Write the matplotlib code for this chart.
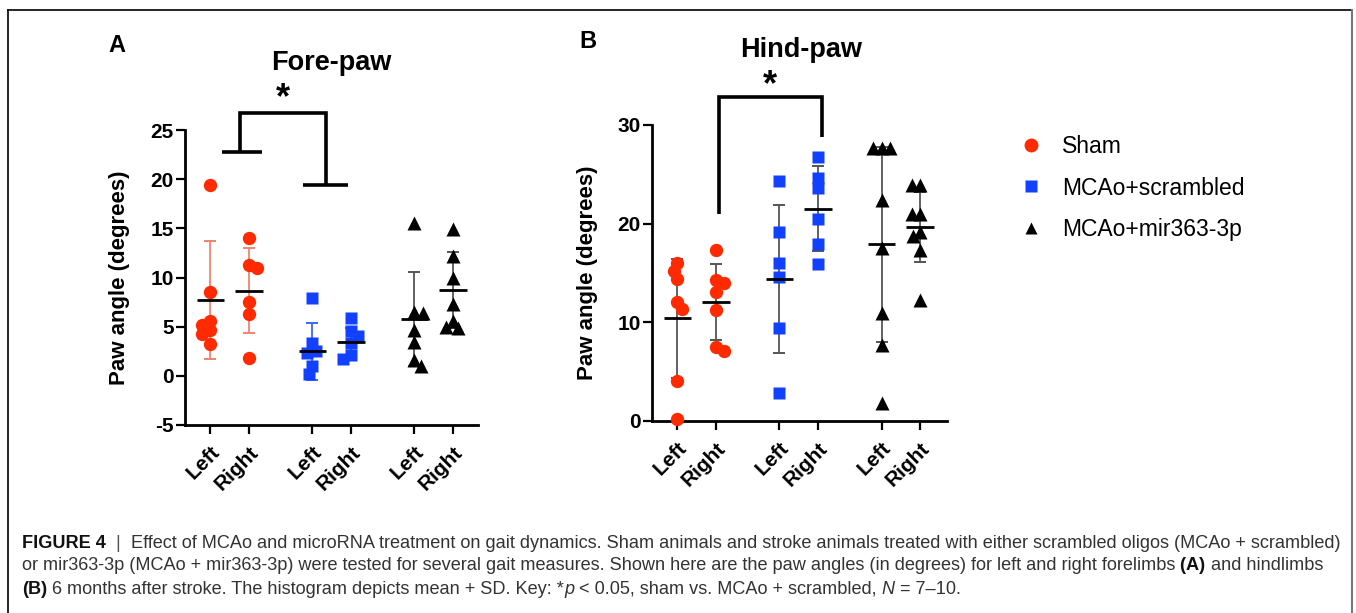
import matplotlib
matplotlib.use("Agg")
import matplotlib.pyplot as plt
from matplotlib.lines import Line2D
import numpy as np

plt.rcParams['font.family'] = ['Liberation Sans', 'DejaVu Sans']

# ---------------- data ----------------
group_labels = ["Sham", "MCAo+scrambled", "MCAo+mir363-3p"]
side_labels = ["Left", "Right"]

# Fore-paw (panel A), paw angle in degrees
sham_fore_left = [19.4, 8.5, 5.6, 5.2, 4.7, 4.3, 3.2]
sham_fore_right = [14.0, 11.3, 11.0, 7.5, 6.3, 1.8]
scr_fore_left = [7.9, 3.3, 2.5, 2.3, 1.0, 0.2]
scr_fore_right = [5.9, 4.6, 4.1, 3.3, 2.1, 1.7]
mir_fore_left = [15.5, 6.5, 6.4, 4.7, 3.4, 1.6, 1.0]
mir_fore_right = [14.9, 12.2, 10.0, 7.3, 5.6, 5.0, 4.9]
fore_means = [7.7, 8.65, 2.5, 3.4, 5.8, 8.75]
fore_sds = [6.0, 4.3, 2.9, 1.5, 4.8, 3.85]

# Hind-paw (panel B)
sham_hind_left = [16.0, 15.2, 14.4, 12.1, 11.4, 4.1, 0.2]
sham_hind_right = [17.3, 14.3, 14.0, 13.1, 11.2, 7.5, 7.1]
scr_hind_left = [24.3, 19.2, 16.0, 14.6, 9.4, 2.8]
scr_hind_right = [26.8, 24.6, 23.6, 20.5, 17.9, 15.9]
mir_hind_left = [27.7, 27.7, 27.7, 22.4, 17.5, 10.9, 7.7, 1.8]
mir_hind_right = [23.9, 23.9, 21.0, 21.0, 19.2, 18.7, 17.3, 12.3]
hind_means = [10.4, 12.1, 14.4, 21.5, 17.9, 19.7]
hind_sds = [6.0, 3.85, 7.5, 4.3, 9.9, 3.55]

fore_data = [sham_fore_left, sham_fore_right, scr_fore_left, scr_fore_right,
             mir_fore_left, mir_fore_right]
hind_data = [sham_hind_left, sham_hind_right, scr_hind_left, scr_hind_right,
             mir_hind_left, mir_hind_right]

# ---------------- style ----------------
W, H = 1356, 613
RED = '#FF2A00'
BLUE = '#1240FF'
BLACK = '#000000'
colors = [RED, RED, BLUE, BLUE, BLACK, BLACK]
markers = ['o', 'o', 's', 's', '^', '^']
msizes = [9.6, 9.6, 9.2, 9.2, 9.6, 9.6]
positions = np.array([1, 2, 3.65, 4.65, 6.3, 7.3])

fig = plt.figure(figsize=(W / 100, H / 100), dpi=100)


def fx(px):
    return px / W


def fy(py):
    return 1 - py / H


axA = fig.add_axes([fx(185), fy(425), 293 / W, 295 / H])
axB = fig.add_axes([fx(652), fy(421), 295 / W, 296 / H])


def swarm(vals, dmin, sy):
    placed = []
    res = [0.0] * len(vals)
    order = sorted(range(len(vals)), key=lambda i: -vals[i])
    for n, i in enumerate(order):
        y = vals[i] * sy
        best = None
        k = 0
        while best is None:
            if k == 0:
                cands = [0.0]
            else:
                cands = [k * 0.5, -k * 0.5] if n % 2 == 0 else [-k * 0.5, k * 0.5]
            for x in cands:
                if all((x - px) ** 2 + (y - py) ** 2 >= dmin ** 2 for px, py in placed):
                    best = x
                    break
            k += 1
        placed.append((best, y))
        res[i] = best
    return res


def draw_panel(ax, data, means, sds, xlim, ylim, yticks, ecolors, ax_w, ax_h):
    ax.set_xlim(*xlim)
    ax.set_ylim(*ylim)
    sx = ax_w / (xlim[1] - xlim[0])
    sy = ax_h / (ylim[1] - ylim[0])
    for i, vals in enumerate(data):
        offs = swarm(vals, 8.5, sy)
        xs = positions[i] + np.array(offs) / sx
        ax.errorbar(positions[i], means[i], yerr=sds[i], fmt='none',
                    ecolor=ecolors[i], elinewidth=1.3, capsize=4.3,
                    capthick=1.4, zorder=2)
        ax.plot(xs, vals, linestyle='none', marker=markers[i], color=colors[i],
                ms=msizes[i], mec='none', zorder=3, clip_on=False)
        ax.hlines(means[i], positions[i] - 0.36, positions[i] + 0.36,
                  color='black', lw=2.0, zorder=4)
    for s in ['top', 'right']:
        ax.spines[s].set_visible(False)
    for s in ['left', 'bottom']:
        ax.spines[s].set_linewidth(2.0)
    ax.set_yticks(yticks)
    ax.set_yticklabels([str(t) for t in yticks], fontsize=15, fontweight='bold')
    ax.set_xticks(positions)
    ax.set_xticklabels(side_labels * 3, fontsize=15, fontweight='bold',
                       rotation=45, ha='right', rotation_mode='anchor')
    ax.tick_params(axis='y', length=6.5, width=1.6, pad=1.5)
    ax.tick_params(axis='x', length=6.5, width=1.6, pad=6)
    ax.set_ylabel('Paw angle (degrees)', fontsize=16, fontweight='bold',
                  va='center')
    ax.yaxis.set_label_coords(-65 / ax_w, 0.5)


draw_panel(axA, fore_data, fore_means, fore_sds, (0.34, 7.95), (-5, 25),
           [-5, 0, 5, 10, 15, 20, 25],
           ['#F2846E', '#F2846E', '#3D66FF', '#3D66FF', '#555555', '#555555'],
           293, 295)
draw_panel(axB, hind_data, hind_means, hind_sds, (0.34, 8.0), (0, 30),
           [0, 10, 20, 30], ['#555555'] * 6, 295, 296)

# significance brackets
bk = dict(color='black', lw=2.6, clip_on=False, solid_joinstyle='miter',
          solid_capstyle='butt')
axA.plot([1.30, 2.34], [22.8, 22.8], **bk)
axA.plot([1.77, 1.77, 4.00, 4.00], [22.8, 26.7, 26.7, 19.4], **bk)
axA.plot([3.41, 4.58], [19.4, 19.4], **bk)
axA.text(2.89, 28.2, '*', fontsize=26, fontweight='bold', ha='center',
         va='center', clip_on=False)
axB.plot([2.08, 2.08, 4.75, 4.75], [21.0, 32.8, 32.8, 28.8], **bk)
axB.text(3.41, 34.0, '*', fontsize=26, fontweight='bold', ha='center',
         va='center', clip_on=False)

# titles & panel letters
fig.text(fx(331), fy(63), 'Fore-paw', fontsize=19.5, fontweight='bold',
         ha='center', va='center')
fig.text(fx(801), fy(50), 'Hind-paw', fontsize=19.5, fontweight='bold',
         ha='center', va='center')
fig.text(fx(117), fy(45), 'A', fontsize=17, fontweight='bold',
         ha='center', va='center')
fig.text(fx(588), fy(42), 'B', fontsize=17, fontweight='bold',
         ha='center', va='center')

# legend
handles = [Line2D([], [], linestyle='none', marker='o', color=RED, ms=10, mec='none'),
           Line2D([], [], linestyle='none', marker='s', color=BLUE, ms=8.5, mec='none'),
           Line2D([], [], linestyle='none', marker='^', color=BLACK, ms=8.5, mec='none')]
fig.legend(handles, group_labels, loc='center left',
           bbox_to_anchor=(fx(1020), fy(188)), frameon=False, fontsize=16.5,
           handlelength=1.0, handletextpad=0.85, labelspacing=0.82,
           borderpad=0, borderaxespad=0)

# frame
fr = dict(color='black', lw=1.2, transform=fig.transFigure)
fig.add_artist(Line2D([fx(8), fx(1352)], [fy(10), fy(10)], **fr))
fig.add_artist(Line2D([fx(8), fx(8)], [fy(10), fy(613)], **fr))
fig.add_artist(Line2D([fx(1352), fx(1352)], [fy(10), fy(613)], color='#777777',
                      lw=1.5, transform=fig.transFigure))

# caption
TXT = '#333333'
line1 = [("FIGURE 4", 'bold', 'normal', '#111111'),
         ("  |  ", 'normal', 'normal', '#555555'),
         ("Effect of MCAo and microRNA treatment on gait dynamics. Sham animals and stroke "
          "animals treated with either scrambled oligos (MCAo + scrambled)", 'normal', 'normal', TXT)]
line2 = [("or mir363-3p (MCAo + mir363-3p) were tested for several gait measures. Shown here "
          "are the paw angles (in degrees) for left and right forelimbs", 'normal', 'normal', TXT),
         (" (A)", 'bold', 'normal', '#111111'),
         (" and hindlimbs", 'normal', 'normal', TXT)]
line3 = [("(B)", 'bold', 'normal', '#111111'),
         (" 6 months after stroke. The histogram depicts mean + SD. Key: *", 'normal', 'normal', TXT),
         ("p", 'normal', 'italic', TXT),
         (" < 0.05, sham vs. MCAo + scrambled, ", 'normal', 'normal', TXT),
         ("N", 'normal', 'italic', TXT),
         (" = 7\u201310.", 'normal', 'normal', TXT)]

renderer = fig.canvas.get_renderer()


def rich(pieces, x0, yc, size, draw=True):
    x = x0
    arts = []
    for txt, wt, st, col in pieces:
        t = fig.text(fx(x), fy(yc), txt, fontsize=size, fontweight=wt,
                     fontstyle=st, color=col, ha='left', va='center_baseline')
        bb = t.get_window_extent(renderer)
        x += bb.width
        arts.append(t)
    if not draw:
        for a in arts:
            a.remove()
    return x - x0


w0 = rich(line1, 22, 541, 12, draw=False)
csize = 12 * (1321 / w0)
rich(line1, 22, 541, csize)
rich(line2, 22, 564, csize)
rich(line3, 22, 587, csize)

fig.savefig('out.png', dpi=100)
